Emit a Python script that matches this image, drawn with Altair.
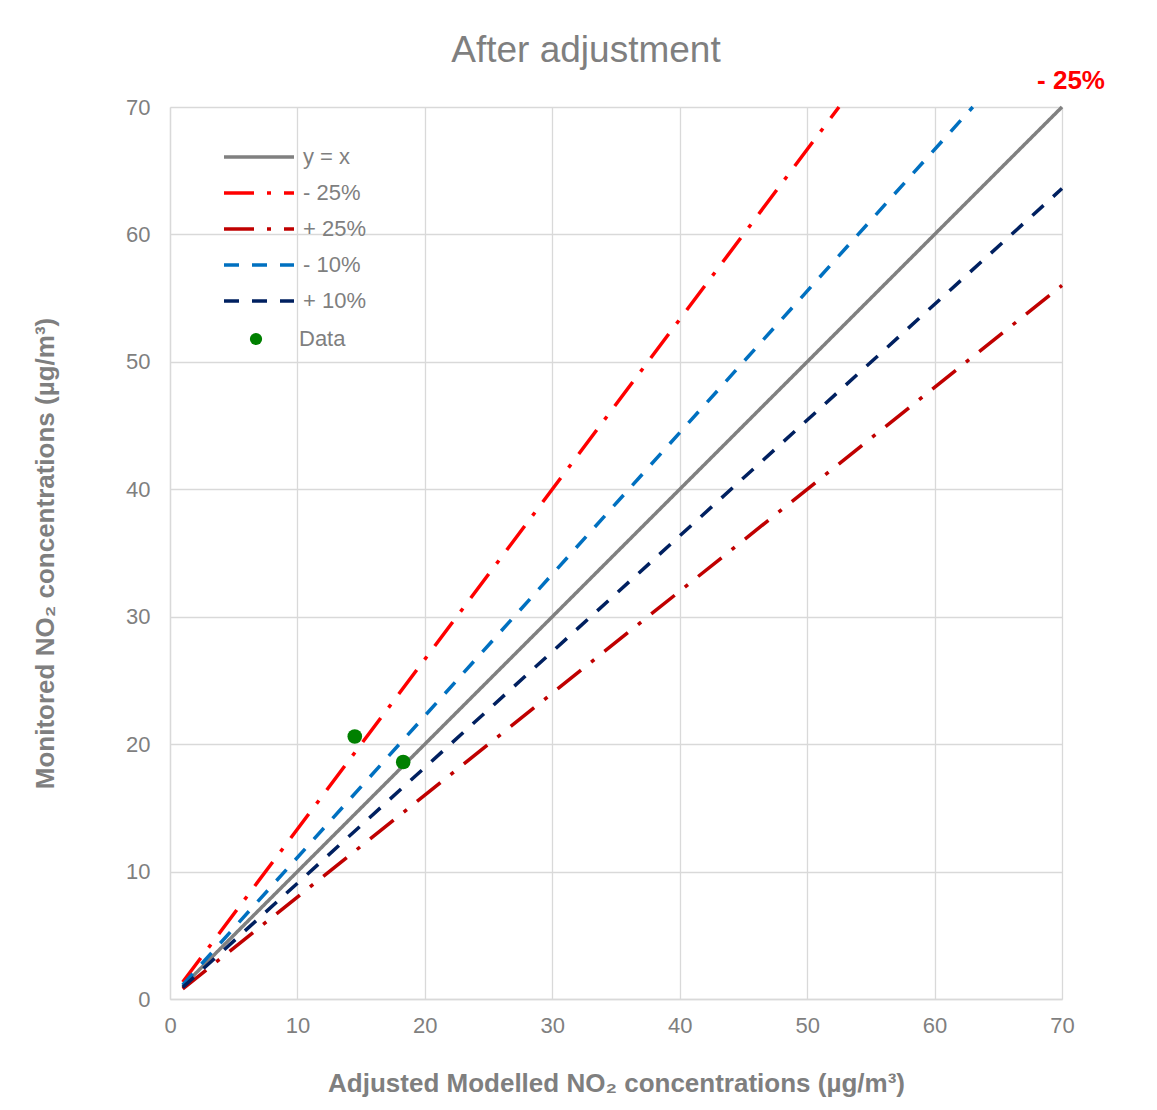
import altair as alt
import pandas as pd

# ---- data ----
series_names = ["y = x", "- 25%", "+ 25%", "- 10%", "+ 10%"]
line_x_start = [1, 1, 1, 1, 1]
line_y_start = [1.0, 1.33, 0.8, 1.11, 0.91]
line_x_end = [70, 52.5, 70, 63, 70]
line_y_end = [70, 70, 56, 70, 63.6]
series_colors = ["#808080", "#FF0000", "#C00000", "#0070C0", "#002060"]
series_dashes = [[1, 0], [30, 13, 4, 13], [30, 13, 4, 13], [15, 13], [15, 13]]

data_x = [14.5, 18.3]
data_y = [20.6, 18.6]

x_ticks = [0, 10, 20, 30, 40, 50, 60, 70]
y_ticks = [0, 10, 20, 30, 40, 50, 60, 70]

label_text = ["- 25%"]
label_x = [70]
label_y = [70]

GREY = "#7F7F7F"
GRID = "#D9D9D9"
FONT = "Liberation Sans"

rows = []
for i, s in enumerate(series_names):
    rows.append({"series": s, "x": line_x_start[i], "y": line_y_start[i], "o": 0})
    rows.append({"series": s, "x": line_x_end[i], "y": line_y_end[i], "o": 1})
lines_df = pd.DataFrame(rows)
pts_df = pd.DataFrame({"x": data_x, "y": data_y, "series": ["Data"] * len(data_x)})
lab_df = pd.DataFrame({"x": label_x, "y": label_y, "t": label_text})

xscale = alt.Scale(domain=[0, 70], nice=False)
yscale = alt.Scale(domain=[0, 70], nice=False)

xaxis = alt.Axis(values=x_ticks, title="Adjusted Modelled NO\u2082 concentrations (\u00b5g/m\u00b3)",
                 ticks=False, tickSize=0, labelPadding=16, titleY=84, titleBaseline="middle",
                 grid=True, labelFlush=False)
yaxis = alt.Axis(values=y_ticks, title="Monitored NO\u2082 concentrations (\u00b5g/m\u00b3)",
                 ticks=False, tickSize=0, labelPadding=20, titleX=-125, titleBaseline="middle",
                 titleAngle=-90, grid=True, labelFlush=False)

line_legend = alt.Legend(title=None, orient="none", legendX=52, legendY=32,
                         symbolType="stroke", symbolSize=4900,
                         symbolStrokeWidth=3.5, labelOffset=7, clipHeight=36,
                         rowPadding=0, labelFontSize=22, labelFont=FONT,
                         labelColor=GREY)

lines = alt.Chart(lines_df).mark_line(strokeWidth=3.5, strokeCap="butt").encode(
    x=alt.X("x:Q", scale=xscale, axis=xaxis),
    y=alt.Y("y:Q", scale=yscale, axis=yaxis),
    order="o:Q",
    color=alt.Color("series:N", scale=alt.Scale(domain=series_names, range=series_colors),
                    legend=line_legend),
    strokeDash=alt.StrokeDash("series:N", scale=alt.Scale(domain=series_names, range=series_dashes),
                              legend=line_legend),
)

points = alt.Chart(pts_df).mark_circle(size=215, opacity=1).encode(
    x=alt.X("x:Q", scale=xscale),
    y=alt.Y("y:Q", scale=yscale),
    fill=alt.Fill("series:N", scale=alt.Scale(domain=["Data"], range=["#008000"]),
                  legend=alt.Legend(title=None, orient="none", legendX=75, legendY=221,
                                    symbolType="circle", symbolSize=150, labelOffset=32,
                                    labelFontSize=22, labelFont=FONT, labelColor=GREY,
                                    symbolStrokeWidth=0)),
)

label = alt.Chart(lab_df).mark_text(color="#FF0000", fontSize=26, fontWeight="bold", font=FONT,
                                    dx=9, dy=-26, align="center", baseline="middle").encode(
    x=alt.X("x:Q", scale=xscale),
    y=alt.Y("y:Q", scale=yscale),
    text="t:N",
)

chart = alt.layer(lines, points, label).properties(
    width=892, height=892,
    title=alt.TitleParams("After adjustment", fontSize=37, font=FONT, color=GREY,
                          fontWeight="normal", anchor="middle", dx=-30, dy=37,
                          baseline="alphabetic", offset=6),
    autosize=alt.AutoSizeParams(type="none"),
    padding={"left": 162, "top": 99, "right": 87, "bottom": 103},
).configure_axis(
    labelFont=FONT, labelFontSize=22, labelColor=GREY,
    titleFont=FONT, titleFontSize=26, titleColor=GREY, titleFontWeight="bold",
    domainColor=GRID, gridColor=GRID, gridWidth=1.3, domainWidth=1.3,
).configure_view(stroke=None)

chart.save("out.html", embed_options={"renderer": "svg", "actions": False})
